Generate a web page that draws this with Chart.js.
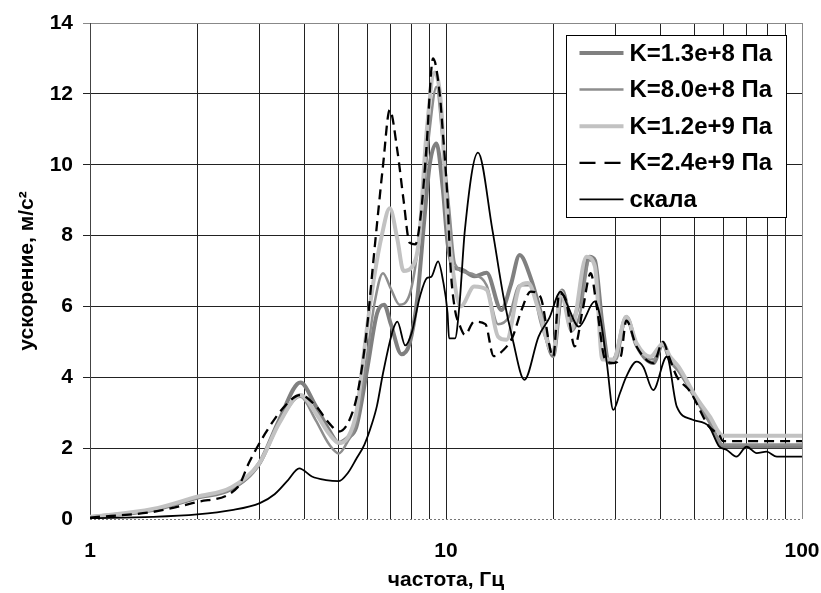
<!DOCTYPE html>
<html>
<head>
<meta charset="utf-8">
<script src="https://cdn.jsdelivr.net/npm/chart.js@4.4.1/dist/chart.umd.min.js"></script>
<style>
  html, body { margin: 0; padding: 0; background: #fff; }
  canvas { display: block; }
</style>
</head>
<body>
<canvas id="chart" width="821" height="593"></canvas>
<script>
// frequency (Hz) and acceleration (m/s2)
var k1Freq = [1, 1.5, 2, 2.5, 3, 3.4, 3.9, 4.3, 4.7, 5.0, 5.3, 5.6, 6.0, 6.4, 6.7, 7.0, 7.5, 7.9, 8.3, 8.7, 9.0, 9.4, 9.8, 10.1, 10.5, 11, 12, 13, 14.3, 15.2, 16.1, 17.3, 18.5, 20, 21.2, 22.5, 23.8, 25.3, 26.2, 27.5, 28.8, 30, 32.1, 34.3, 38.2, 40.7, 42.5, 45, 50, 55, 60, 100];
var k1Vals = [0.05, 0.25, 0.6, 0.85, 1.6, 2.8, 3.85, 3.2, 2.5, 2.15, 2.3, 2.6, 4.2, 5.8, 6.05, 5.5, 4.65, 4.95, 6.2, 8.5, 10.0, 10.6, 9.3, 7.8, 7.1, 7.05, 6.85, 6.95, 5.9, 6.6, 7.45, 6.8, 5.8, 4.6, 6.45, 5.6, 6.2, 7.4, 7.3, 5.5, 4.4, 4.6, 5.7, 4.9, 4.4, 4.95, 4.5, 4.2, 3.45, 2.75, 2.05, 2.05];

var k2Freq = [1, 1.5, 2, 2.5, 3, 3.4, 3.9, 4.3, 4.7, 5.0, 5.3, 5.6, 6.0, 6.3, 6.65, 7.0, 7.4, 7.9, 8.3, 8.7, 9.0, 9.4, 9.8, 10.2, 10.6, 11.5, 12, 13, 14, 15, 16.1, 17.3, 18.5, 20, 21.2, 22.5, 23.8, 25.3, 26.2, 27.5, 28.8, 30, 32.1, 34.3, 38.2, 40.7, 42.5, 45, 50, 55, 60, 100];
var k2Vals = [0.05, 0.26, 0.6, 0.85, 1.55, 2.7, 3.45, 2.8, 2.1, 1.85, 2.2, 2.7, 4.6, 6.1, 6.94, 6.5, 6.05, 6.33, 7.5, 9.5, 11.0, 12.2, 10.6, 8.8, 7.2, 6.95, 6.9, 6.6, 5.5, 5.7, 6.6, 6.6, 5.5, 4.7, 6.2, 5.3, 5.8, 7.3, 7.2, 5.3, 4.5, 4.5, 5.7, 4.9, 4.5, 5.0, 4.5, 4.2, 3.45, 2.75, 2.1, 2.1];

var k3Freq = [1, 1.5, 2, 2.5, 3, 3.4, 3.9, 4.3, 4.7, 5.0, 5.3, 5.6, 6.0, 6.3, 6.6, 6.95, 7.3, 7.6, 8.0, 8.4, 8.8, 9.3, 9.7, 10.0, 10.4, 11, 12, 13, 14, 14.8, 16.1, 17, 18.2, 20, 21, 22.5, 24.8, 26.2, 27.5, 29.5, 32.1, 34.3, 37.5, 40.7, 42.5, 45, 50, 55, 60, 100];
var k3Vals = [0.06, 0.28, 0.63, 0.9, 1.6, 2.7, 3.5, 3.0, 2.4, 2.15, 2.3, 3.0, 5.4, 6.9, 8.0, 8.77, 7.9, 7.0, 7.1, 7.9, 10.8, 12.6, 11.6, 9.0, 7.2, 6.0, 6.56, 6.47, 5.15, 5.06, 6.56, 6.66, 5.9, 4.68, 6.42, 5.34, 7.4, 7.13, 4.5, 4.5, 5.71, 4.96, 4.58, 4.95, 4.6, 4.3, 3.5, 2.9, 2.35, 2.35];

var k4Freq = [1, 1.5, 2, 2.6, 2.8, 3.1, 3.5, 3.9, 4.3, 4.7, 5.0, 5.5, 5.75, 6.0, 6.24, 6.5, 6.65, 6.95, 7.3, 7.6, 7.9, 8.2, 8.5, 8.8, 9.2, 9.6, 9.8, 10.1, 10.3, 10.6, 10.9, 11.3, 12, 12.9, 13.6, 14.5, 15.4, 16.3, 17.3, 18.4, 20, 20.8, 21.7, 23, 24.2, 25.5, 26.5, 28, 29.5, 31, 32.1, 34.3, 38.2, 40.7, 42.3, 44.5, 48.5, 54.8, 58.5, 60, 100];
var k4Vals = [0.04, 0.2, 0.48, 0.9, 1.6, 2.4, 3.15, 3.5, 3.2, 2.7, 2.47, 3.1, 4.0, 5.4, 7.2, 9.0, 9.95, 11.55, 10.4, 9.0, 7.8, 7.75, 8.6, 10.4, 13.0, 12.0, 10.9, 9.0, 7.1, 5.9, 5.5, 5.2, 5.57, 5.5, 4.6, 4.77, 5.15, 5.9, 6.42, 6.28, 4.58, 6.37, 6.19, 4.87, 5.9, 6.94, 6.0, 4.5, 4.4, 4.6, 5.6, 4.87, 4.4, 5.0, 4.58, 4.02, 3.6, 2.61, 2.37, 2.2, 2.2];

var rockFreq = [1, 1.5, 2, 2.5, 3, 3.3, 3.6, 3.87, 4.2, 4.6, 5.0, 5.3, 5.6, 5.9, 6.2, 6.4, 6.65, 7.1, 7.3, 7.68, 8.0, 8.45, 8.84, 9.1, 9.5, 9.8, 10.1, 10.2, 10.6, 10.9, 11.3, 12.3, 13.5, 14.5, 15.4, 16.6, 18.2, 19.5, 21, 21.9, 23.6, 26.2, 27.1, 28.3, 29.5, 30.8, 32.1, 34.3, 35.8, 38.2, 41.7, 44.5, 49.3, 54.8, 58.5, 61.5, 65.4, 69.9, 74.6, 79.5, 85, 100];
var rockVals = [0.02, 0.06, 0.13, 0.25, 0.45, 0.7, 1.1, 1.43, 1.2, 1.1, 1.07, 1.3, 1.7, 2.1, 2.7, 3.2, 4.1, 5.34, 5.57, 4.9, 5.24, 6.28, 6.8, 6.84, 7.27, 6.75, 5.81, 5.1, 5.1, 6.0, 8.16, 10.34, 8.16, 6.28, 5.06, 3.93, 5.15, 5.67, 6.42, 6.05, 5.43, 6.14, 5.71, 4.4, 3.08, 3.55, 4.02, 4.44, 4.3, 3.64, 4.58, 3.17, 2.8, 2.61, 2.05, 1.95, 1.76, 2.04, 1.86, 1.9, 1.76, 1.76];

var seriesNames = ["K=1.3e+8 Па", "K=8.0e+8 Па", "K=1.2e+9 Па", "K=2.4e+9 Па", "скала"];
var xGridValues = [1, 2, 3, 4, 5, 6, 7, 8, 9, 10, 20, 30, 40, 50, 60, 70, 80, 90, 100];
var xTickLabels = [1, 10, 100];

function pts(fs, vs) {
  return fs.map(function (f, i) { return { x: f, y: vs[i] }; });
}

var FONT = '"Liberation Sans", Arial, sans-serif';

// white page behind everything, dotted bottom axis line under the curves
var whiteBg = {
  id: 'whiteBg',
  beforeDraw: function (chart) {
    var c = chart.ctx;
    c.save();
    c.fillStyle = '#fff';
    c.fillRect(0, 0, chart.width, chart.height);
    c.restore();
  },
  beforeDatasetsDraw: function (chart) {
    var c = chart.ctx, a = chart.chartArea;
    var y = Math.round(a.bottom) + 0.5;
    c.save();
    c.strokeStyle = '#777';
    c.lineWidth = 1;
    c.setLineDash([2, 2]);
    c.beginPath();
    c.moveTo(a.left, y);
    c.lineTo(a.right, y);
    c.stroke();
    c.restore();
  }
};

// boxed legend inside the plot, top right
var boxLegend = {
  id: 'boxLegend',
  afterDatasetsDraw: function (chart) {
    var c = chart.ctx, area = chart.chartArea;
    var x0 = Math.round(area.right - 236) + 0.5;
    var y0 = Math.round(area.top + 12) + 0.5;
    c.save();
    c.fillStyle = '#fff';
    c.fillRect(x0, y0, 220, 182);
    c.strokeStyle = '#000';
    c.lineWidth = 1;
    c.strokeRect(x0, y0, 220, 182);
    chart.data.datasets.forEach(function (ds, i) {
      var y = y0 + 17.5 + i * 36.6;
      c.beginPath();
      c.strokeStyle = ds.borderColor;
      c.lineWidth = ds.borderWidth;
      c.setLineDash(ds.borderDash ? [16, 9] : []);
      c.moveTo(x0 + 13, y);
      c.lineTo(x0 + 57, y);
      c.stroke();
      c.setLineDash([]);
      c.fillStyle = '#000';
      c.font = 'bold 24px ' + FONT;
      c.textBaseline = 'middle';
      c.textAlign = 'left';
      c.fillText(ds.label, x0 + 63, y + 1);
    });
    c.restore();
  }
};

var ctx = document.getElementById('chart');

new Chart(ctx, {
  type: 'line',
  data: {
    datasets: [
      { label: seriesNames[0], data: pts(k1Freq, k1Vals), borderColor: '#808080', borderWidth: 4, order: 4 },
      { label: seriesNames[1], data: pts(k2Freq, k2Vals), borderColor: '#8e8e8e', borderWidth: 2.5, order: 3 },
      { label: seriesNames[2], data: pts(k3Freq, k3Vals), borderColor: '#c2c2c2', borderWidth: 4, order: 2 },
      { label: seriesNames[3], data: pts(k4Freq, k4Vals), borderColor: '#000', borderWidth: 2.3, borderDash: [10, 6], order: 1 },
      { label: seriesNames[4], data: pts(rockFreq, rockVals), borderColor: '#000', borderWidth: 1.8, order: 0 }
    ]
  },
  options: {
    responsive: false,
    animation: false,
    layout: { padding: { top: 23, right: 19, bottom: 0, left: 0 } },
    elements: {
      point: { radius: 0 },
      line: { cubicInterpolationMode: 'monotone', fill: false }
    },
    plugins: {
      legend: { display: false },
      tooltip: { enabled: false }
    },
    scales: {
      x: {
        type: 'logarithmic',
        min: 1,
        max: 100,
        afterBuildTicks: function (s) {
          s.ticks = xGridValues.map(function (v) { return { value: v }; });
        },
        afterFit: function (s) {
          s.height = 74;
          s.paddingLeft = 0;
          s.paddingRight = 0;
        },
        ticks: {
          autoSkip: false,
          maxRotation: 0,
          padding: 20,
          color: '#000',
          font: { family: FONT, size: 21, weight: 'bold' },
          callback: function (v) { return xTickLabels.indexOf(v) >= 0 ? String(v) : ''; }
        },
        grid: {
          color: function (c) { return c.tick && c.tick.value === 100 ? '#888' : '#222'; },
          tickLength: 0
        },
        border: { display: false },
        title: {
          display: true,
          text: 'частота, Гц',
          color: '#000',
          font: { family: FONT, size: 21, weight: 'bold' },
          padding: { top: 0, bottom: 0 }
        }
      },
      y: {
        min: 0,
        max: 14,
        afterFit: function (s) { s.width = 90; },
        ticks: {
          stepSize: 2,
          padding: 10,
          color: '#000',
          font: { family: FONT, size: 21, weight: 'bold' }
        },
        grid: {
          color: function (c) {
            if (!c.tick) return '#222';
            if (c.tick.value === 0) return 'rgba(0,0,0,0)';
            return c.tick.value === 14 ? '#888' : '#222';
          },
          tickLength: 7
        },
        border: { color: '#444' },
        title: {
          display: true,
          text: 'ускорение, м/с²',
          color: '#000',
          font: { family: FONT, size: 21, weight: 'bold' },
          padding: { top: 15, bottom: 0 }
        }
      }
    }
  },
  plugins: [whiteBg, boxLegend]
});
</script>
</body>
</html>
